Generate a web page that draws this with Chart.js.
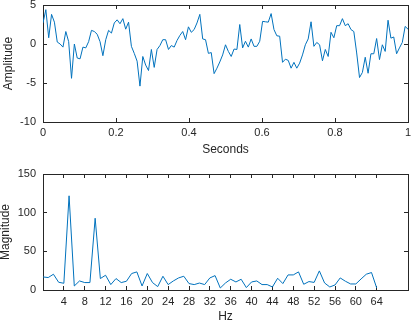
<!DOCTYPE html>
<html>
<head>
<meta charset="utf-8">
<script src="https://cdn.jsdelivr.net/npm/chart.js@4.4.0/dist/chart.umd.min.js"></script>
<style>
  body { margin: 0; background: #fff; }
  canvas { position: absolute; left: 0; }
</style>
</head>
<body>
<canvas id="timeChart" width="412" height="160" style="top:0"></canvas>
<canvas id="freqChart" width="412" height="165" style="top:160px"></canvas>
<script>
// sampled signal, fs = 128 Hz, one second
const fs = 128;
const amplitude = [
  2.7, 4.4, 0.8, 3.8, 2.8, 0.25, 0.0, -0.4, 1.6, 0.3,
  -4.4, 0.0, -1.8, -1.9, -0.4, -0.5, 0.3, 1.75, 1.6, 1.25,
  0.3, -1.5, 0.55, 1.75, 1.4, 2.7, 3.1, 2.6, 3.25, 1.9,
  2.8, -0.3, -1.2, -2.2, -5.4, -1.6, -2.7, -3.4, -0.7, -3.0,
  -0.7, -0.2, 0.55, 0.55, -0.7, -0.2, -0.4, 0.45, 1.1, 1.6,
  0.55, 2.2, 1.5, 1.85, 2.7, 3.8, 0.65, 0.55, -1.2, -1.1,
  -3.8, -3.1, -2.3, -1.4, -0.1, -0.95, -1.6, -0.65, -0.7, 2.5,
  -0.5, 0.35, -0.4, 0.65, -0.3, -0.3, 0.35, 2.9, 2.85, 2.8,
  3.9, 1.85, 1.05, 1.0, -2.35, -1.95, -2.1, -3.1, -2.35, -3.1,
  -2.45, -1.4, -0.1, 0.65, 2.85, -0.3, 0.2, -0.1, -2.15, -0.7,
  -1.6, 1.5, 0.8, 2.35, 2.35, 3.25, 2.35, 2.6, 1.85, 1.6,
  -1.15, -4.3, -3.65, -1.7, -3.75, -1.25, -1.25, 0.7, -2.0, -0.1,
  -0.95, 3.05, 0.75, 0.9, -1.25, -0.5, 0.2, 2.25, 1.9
];

// single-sided spectrum, 0..64 Hz
const hz = [
  0, 1, 2, 3, 4, 5, 6, 7, 8, 9, 10, 11, 12, 13, 14, 15, 16,
  17, 18, 19, 20, 21, 22, 23, 24, 25, 26, 27, 28, 29, 30, 31, 32,
  33, 34, 35, 36, 37, 38, 39, 40, 41, 42, 43, 44, 45, 46, 47, 48,
  49, 50, 51, 52, 53, 54, 55, 56, 57, 58, 59, 60, 61, 62, 63, 64
];
const magnitude = [
  16.9, 16.1, 20.4, 10, 8.7, 121.8, 5.2, 11.7, 9.6, 9.6, 92.8, 14.8, 19.1, 7, 14.8, 9.6, 11.3,
  21.3, 23.4, 5.2, 21.3, 9.6, 4.4, 17.8, 7, 11.7, 15.6, 17.8, 8.3, 7, 9, 7, 15.6,
  18.6, 2.6, 9.1, 13.9, 10.4, 13.9, 3.1, 10.4, 11.7, 7, 7, 3.9, 15.2, 8.3, 19.5, 19.5,
  23.4, 7.4, 10.9, 9.8, 24.7, 9.1, 3.9, 6.5, 15.6, 11.3, 7.8, 7.8, 14.3, 20.4, 22.6, 2.6
];

const hzTicks = [4, 8, 12, 16, 20, 24, 28, 32, 36, 40, 44, 48, 52, 56, 60, 64];

const AXIS = '#262626';
const LINE = '#0072BD';
const FONT = "'Liberation Sans', Arial, Helvetica, sans-serif";

// MATLAB-like box: inward ticks on all four sides, no grid
function boxScales(o) {
  const grid = { drawOnChartArea: false, color: AXIS, tickLength: -4, lineWidth: 1 };
  const border = { color: AXIS, width: 1 };
  const setTicks = o.xTicks ? (s => { s.ticks = o.xTicks.map(v => ({value: v})); }) : undefined;
  // labels at the ends must not shrink the plot box
  const noPad = s => { s.paddingLeft = 0; s.paddingRight = 0; s.paddingTop = 0; s.paddingBottom = 0; };
  return {
    x: {
      type: 'linear', position: 'bottom', min: o.xmin, max: o.xmax,
      grid: grid, border: border,
      afterBuildTicks: setTicks,
      afterFit: s => { s.height = o.xHeight; noPad(s); },
      ticks: {
        stepSize: o.xStep, autoSkip: false, maxRotation: 0, padding: o.xPad,
        color: AXIS, font: { family: FONT, size: 11 },
        callback: v => String(Math.round(v * 10) / 10)
      },
      title: {
        display: true, text: o.xTitle, color: AXIS,
        font: { family: FONT, size: 12 }, padding: { top: 0, bottom: o.xTitlePad }
      }
    },
    xTop: {
      type: 'linear', position: 'top', min: o.xmin, max: o.xmax,
      grid: grid, border: border,
      afterBuildTicks: setTicks,
      afterFit: s => { s.height = 0; noPad(s); },
      ticks: { stepSize: o.xStep, display: false }
    },
    y: {
      type: 'linear', position: 'left', min: o.ymin, max: o.ymax,
      grid: grid, border: border,
      afterFit: s => { s.width = 43; noPad(s); },
      ticks: {
        stepSize: o.yStep, autoSkip: false, padding: 11,
        color: AXIS, font: { family: FONT, size: 11 }
      },
      title: {
        display: true, text: o.yTitle, color: AXIS,
        font: { family: FONT, size: 12, lineHeight: 1 }, padding: { top: o.yTitlePad, bottom: 0 }
      }
    },
    yRight: {
      type: 'linear', position: 'right', min: o.ymin, max: o.ymax,
      grid: grid, border: border,
      afterFit: s => { s.width = 0; noPad(s); },
      ticks: { stepSize: o.yStep, display: false }
    }
  };
}

function lineChart(id, points, scales, padTop) {
  return new Chart(document.getElementById(id), {
    type: 'line',
    data: {
      datasets: [{
        data: points,
        borderColor: LINE,
        borderWidth: 1,
        pointRadius: 0,
        tension: 0,
        fill: false
      }]
    },
    options: {
      responsive: false,
      animation: false,
      devicePixelRatio: 1,
      layout: { padding: { top: padTop, right: 4, left: 0, bottom: 0 } },
      plugins: { legend: { display: false }, tooltip: { enabled: false } },
      scales: scales
    }
  });
}

lineChart('timeChart',
  amplitude.map((v, i) => ({ x: i / fs, y: v })),
  boxScales({
    xmin: 0, xmax: 1, xStep: 0.2, ymin: -10, ymax: 5, yStep: 5,
    xTitle: 'Seconds', yTitle: 'Amplitude',
    xHeight: 38, xPad: 8, xTitlePad: 3, yTitlePad: 3
  }),
  5);

lineChart('freqChart',
  hz.map((f, i) => ({ x: f, y: magnitude[i] })),
  boxScales({
    xmin: 0, xmax: 70, xTicks: hzTicks, ymin: 0, ymax: 150, yStep: 50,
    xTitle: 'Hz', yTitle: 'Magnitude',
    xHeight: 35, xPad: 9, xTitlePad: 1, yTitlePad: 0
  }),
  14);
</script>
</body>
</html>
